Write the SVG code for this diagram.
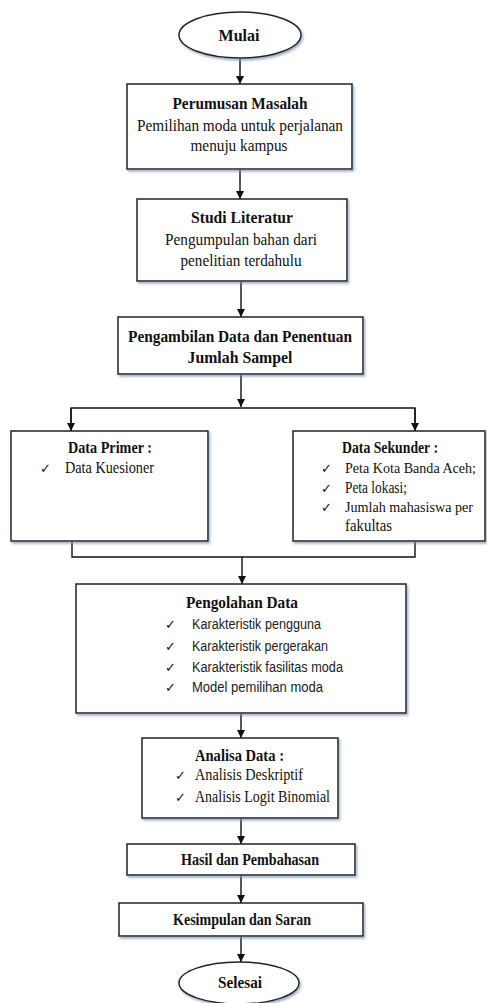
<svg xmlns="http://www.w3.org/2000/svg" width="487" height="1003" viewBox="0 0 487 1003">
<style>
.box{fill:#fff;stroke:#222;stroke-width:1.5;filter:url(#sh)}
.ln{fill:none;stroke:#111;stroke-width:1.4}
.b{font-family:"Liberation Serif",serif;font-weight:bold;font-size:16.5px;fill:#111}
.r{font-family:"Liberation Serif",serif;font-size:16.5px;fill:#111}
.rs{font-size:14.5px}
.s{font-family:"Liberation Sans",sans-serif;font-size:14px;fill:#222}
.ck{font-family:"DejaVu Sans",sans-serif;font-size:13px;fill:#111}
.c{text-anchor:middle}
</style>
<defs>
<filter id="sh" x="-5%" y="-5%" width="115%" height="125%">
<feDropShadow dx="1.5" dy="2" stdDeviation="1" flood-color="#7d93a8" flood-opacity="0.7"/>
</filter>
<marker id="ar" viewBox="0 0 10 10" refX="10" refY="5" markerWidth="8" markerHeight="8" markerUnits="userSpaceOnUse" orient="auto">
<path d="M0,0 L10,5 L0,10 z" fill="#111"/>
</marker>
</defs>
<g id="connectors">
<line class="ln" x1="240" y1="58" x2="240" y2="84" marker-end="url(#ar)"/>
<line class="ln" x1="240" y1="169" x2="240" y2="199" marker-end="url(#ar)"/>
<line class="ln" x1="241" y1="281" x2="241" y2="317" marker-end="url(#ar)"/>
<line class="ln" x1="241" y1="374" x2="241" y2="407" marker-end="url(#ar)"/>
<polyline class="ln" points="71,431 71,408 415,408 415,431"/>
<line class="ln" x1="71" y1="408" x2="71" y2="431" marker-end="url(#ar)"/>
<line class="ln" x1="415" y1="408" x2="415" y2="431" marker-end="url(#ar)"/>
<polyline class="ln" points="72,541 72,557 415,557 415,541"/>
<line class="ln" x1="242" y1="557" x2="242" y2="584" marker-end="url(#ar)"/>
<line class="ln" x1="241" y1="713" x2="241" y2="738" marker-end="url(#ar)"/>
<line class="ln" x1="241" y1="818" x2="241" y2="844" marker-end="url(#ar)"/>
<line class="ln" x1="241" y1="875" x2="241" y2="903" marker-end="url(#ar)"/>
<line class="ln" x1="241" y1="936" x2="241" y2="962" marker-end="url(#ar)"/>
</g>
<g id="mulai">
<ellipse class="box" cx="240" cy="35" rx="61" ry="23"/>
<text class="b c" x="239" y="41" textLength="41" lengthAdjust="spacingAndGlyphs">Mulai</text>
</g>
<g id="perumusan">
<rect class="box" x="127" y="84" width="225" height="85"/>
<text class="b c" x="240" y="109" textLength="135" lengthAdjust="spacingAndGlyphs">Perumusan Masalah</text>
<text class="r c" x="240" y="131" textLength="206" lengthAdjust="spacingAndGlyphs">Pemilihan moda untuk perjalanan</text>
<text class="r c" x="239" y="151" textLength="97" lengthAdjust="spacingAndGlyphs">menuju kampus</text>
</g>
<g id="studi">
<rect class="box" x="137" y="199" width="210" height="82"/>
<text class="b c" x="242" y="223" textLength="102" lengthAdjust="spacingAndGlyphs">Studi Literatur</text>
<text class="r c" x="241" y="245" textLength="152" lengthAdjust="spacingAndGlyphs">Pengumpulan bahan dari</text>
<text class="r c" x="241" y="266" textLength="121" lengthAdjust="spacingAndGlyphs">penelitian terdahulu</text>
</g>
<g id="pengambilan">
<rect class="box" x="118" y="317" width="245" height="57"/>
<text class="b c" x="240" y="342" textLength="224" lengthAdjust="spacingAndGlyphs">Pengambilan Data dan Penentuan</text>
<text class="b c" x="240" y="363" textLength="105" lengthAdjust="spacingAndGlyphs">Jumlah Sampel</text>
</g>
<g id="primer">
<rect class="box" x="11" y="431" width="197" height="110"/>
<text class="b c" x="110" y="453" textLength="84" lengthAdjust="spacingAndGlyphs">Data Primer :</text>
<text class="ck" x="40" y="473">✓</text>
<text class="r" x="65" y="473" textLength="89" lengthAdjust="spacingAndGlyphs">Data Kuesioner</text>
</g>
<g id="sekunder">
<rect class="box" x="293" y="431" width="192" height="110"/>
<text class="b" x="342" y="453" textLength="96" lengthAdjust="spacingAndGlyphs">Data Sekunder :</text>
<text class="ck" x="321" y="473">✓</text>
<text class="r rs" x="345" y="473" textLength="131" lengthAdjust="spacingAndGlyphs">Peta Kota Banda Aceh;</text>
<text class="ck" x="321" y="493">✓</text>
<text class="r" x="345" y="493" textLength="62" lengthAdjust="spacingAndGlyphs">Peta lokasi;</text>
<text class="ck" x="321" y="512">✓</text>
<text class="r rs" x="345" y="512" textLength="128" lengthAdjust="spacingAndGlyphs">Jumlah mahasiswa per</text>
<text class="r" x="345" y="531" textLength="47" lengthAdjust="spacingAndGlyphs">fakultas</text>
</g>
<g id="pengolahan">
<rect class="box" x="76" y="584" width="330" height="129"/>
<text class="b" x="186" y="608" textLength="112" lengthAdjust="spacingAndGlyphs">Pengolahan Data</text>
<text class="ck" x="165" y="629">✓</text>
<text class="s" x="192" y="629" textLength="129" lengthAdjust="spacingAndGlyphs">Karakteristik pengguna</text>
<text class="ck" x="165" y="651">✓</text>
<text class="s" x="192" y="651" textLength="136" lengthAdjust="spacingAndGlyphs">Karakteristik pergerakan</text>
<text class="ck" x="165" y="672">✓</text>
<text class="s" x="192" y="672" textLength="151" lengthAdjust="spacingAndGlyphs">Karakteristik fasilitas moda</text>
<text class="ck" x="165" y="692">✓</text>
<text class="s" x="192" y="692" textLength="131" lengthAdjust="spacingAndGlyphs">Model pemilihan moda</text>
</g>
<g id="analisa">
<rect class="box" x="142" y="738" width="196" height="80"/>
<text class="b" x="195" y="761" textLength="89" lengthAdjust="spacingAndGlyphs">Analisa Data :</text>
<text class="ck" x="175" y="780">✓</text>
<text class="r" x="195" y="780" textLength="108" lengthAdjust="spacingAndGlyphs">Analisis Deskriptif</text>
<text class="ck" x="175" y="802">✓</text>
<text class="r" x="195" y="802" textLength="135" lengthAdjust="spacingAndGlyphs">Analisis Logit Binomial</text>
</g>
<g id="hasil">
<rect class="box" x="127" y="844" width="228" height="31"/>
<text class="b" x="181" y="865" textLength="138" lengthAdjust="spacingAndGlyphs">Hasil dan Pembahasan</text>
</g>
<g id="kesimpulan">
<rect class="box" x="119" y="903" width="244" height="33"/>
<text class="b" x="173" y="925" textLength="138" lengthAdjust="spacingAndGlyphs">Kesimpulan dan Saran</text>
</g>
<g id="selesai">
<ellipse class="box" cx="239" cy="983" rx="60" ry="21"/>
<text class="b c" x="240" y="988" textLength="44" lengthAdjust="spacingAndGlyphs">Selesai</text>
</g>
</svg>
